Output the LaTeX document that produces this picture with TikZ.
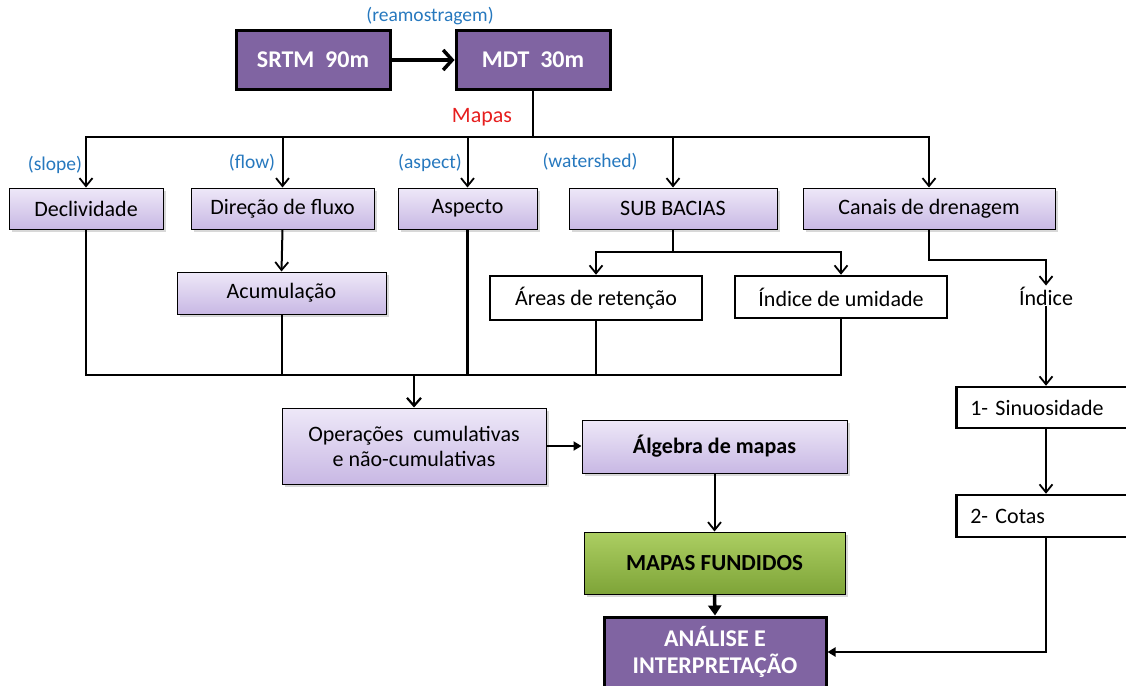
\documentclass[tikz,border=0pt]{standalone}
\usepackage{fontspec}
\setmainfont{Carlito}
\usetikzlibrary{arrows.meta,shadows}
\definecolor{purp}{RGB}{128,100,162}
\definecolor{lavtop}{RGB}{238,232,248}
\definecolor{lavbot}{RGB}{200,184,228}
\definecolor{grtop}{RGB}{172,206,98}
\definecolor{grbot}{RGB}{126,164,56}
\definecolor{lblue}{RGB}{38,120,190}
\definecolor{mred}{RGB}{230,30,30}
\newcommand\fntA{\fontsize{22}{25}\selectfont}
\newcommand\fntL{\fontsize{19.5}{22}\selectfont}
\newcommand\fntB{\fontsize{24}{27}\selectfont\bfseries}
\tikzset{
  box/.style={rectangle, inner sep=2pt, font=\fntA, align=center},
  lav/.style={box, draw=black, line width=1pt, top color=lavtop, bottom color=lavbot,
    drop shadow={shadow xshift=2.5pt, shadow yshift=-2.5pt, fill=black!30, opacity=0.5}},
  wbox/.style={box, draw=black, line width=2.5pt, fill=white},
  pbox/.style={box, draw=black, line width=3pt, fill=purp, text=white, font=\fntB},
  gbox/.style={box, draw=black, line width=1pt, top color=grtop, bottom color=grbot, font=\fntB,
    drop shadow={shadow xshift=2.5pt, shadow yshift=-2.5pt, fill=black!30, opacity=0.5}},
  lbl/.style={font=\fntL, text=lblue, inner sep=0pt},
  conn/.style={line width=2pt, draw=black},
  oarr/.style={conn, -{Straight Barb[length=8pt,width=13pt,line width=1.8pt]}},
  farr/.style={conn, -{Triangle[length=8pt,width=9pt]}},
}
\begin{document}
\begin{tikzpicture}[x=1pt,y=-1pt]
\useasboundingbox (0,0) rectangle (1126,685);
\clip (0,0) rectangle (1126,685);

% top row
\node[pbox, minimum width=154pt, minimum height=58pt] (srtm) at (313,60) {SRTM\ \ 90m};
\node[pbox, minimum width=154pt, minimum height=58pt] (mdt) at (533,60) {MDT\ \ 30m};
\node[lbl] (ream) at (430,16) {(reamostragem)};
\node[font=\fntA, text=mred, inner sep=0pt] (mapas) at (482,117) {Mapas};

% second row
\node[lav, minimum width=154pt, minimum height=41pt] (decl) at (86,208.5) {Declividade};
\node[lav, minimum width=183pt, minimum height=41pt] (dir) at (282.5,208.5) {Direção de fluxo};
\node[lav, minimum width=139pt, minimum height=41pt] (asp) at (467.5,208.5) {Aspecto};
\node[lav, minimum width=208pt, minimum height=41pt] (sub) at (673,208.5) {SUB BACIAS};
\node[lav, minimum width=252pt, minimum height=41pt] (can) at (929,208.5) {Canais de drenagem};

\node[lbl] (slope) at (55,165) {(slope)};
\node[lbl] (flow) at (252,163) {(flow)};
\node[lbl] (aspect) at (430,163) {(aspect)};
\node[lbl] (wshed) at (590,162) {(watershed)};

% third row
\node[lav, minimum width=209pt, minimum height=42pt] (acum) at (281.5,293) {Acumulação};
\node[wbox, minimum width=212pt, minimum height=44pt] (areas) at (596,298) {Áreas de retenção};
\node[wbox, minimum width=212pt, minimum height=42pt] (umid) at (841,297) {Índice de umidade};
\node[font=\fntA, inner sep=1pt] (indice) at (1046,296) {Índice};

% right column
\node[wbox, anchor=west, minimum height=41pt, text width=152pt, inner xsep=14pt, align=left] (sin) at (955,407.5) {1- Sinuosidade};
\node[wbox, anchor=west, minimum height=42pt, text width=152pt, inner xsep=14pt, align=left] (cot) at (955,516) {2- Cotas};

% lower
\node[lav, minimum width=264pt, minimum height=76pt] (ops) at (414,446) {Operações\ \ cumulativas\\e não-cumulativas};
\node[lav, minimum width=265pt, minimum height=53pt, font=\fntA\bfseries] (alg) at (714.5,446.5) {Álgebra de mapas};
\node[gbox, minimum width=261pt, minimum height=62pt, font=\fontsize{23}{26}\selectfont\bfseries] (mf) at (714.5,563) {MAPAS FUNDIDOS};
\node[pbox, minimum width=222pt, minimum height=70pt] (ana) at (715,652) {ANÁLISE E\\INTERPRETAÇÃO};

% connectors
\draw[line width=3.5pt, -{Straight Barb[length=9pt,width=20pt,line width=3.5pt]}] (srtm) -- (mdt);

\coordinate (bus) at (533,137);
\draw[conn] (mdt.south) -- (bus);
\foreach \n in {decl,dir,asp,sub,can}{
  \draw[conn] (bus) -| ([yshift=8pt]\n.north);
  \draw[oarr] ([yshift=14pt]\n.north) -- (\n.north);
}

\draw[oarr] (dir.south) -- (acum.north);

\coordinate (m) at (414,375);
\draw[conn] (decl.south) |- (m);
\draw[conn] (acum.south) |- (m);
\draw[line width=2.5pt] (asp.south) |- (m);
\draw[line width=2.5pt] (umid.south) |- (m);
\draw[conn] (areas.south) -- (areas.south |- m);
\draw[line width=2.5pt, -{Straight Barb[length=8pt,width=14pt,line width=2.2pt]}] (m) -- (ops.north);

\coordinate (sj) at (673,252);
\draw[conn] (sub.south) -- (sj);
\draw[oarr] (sj) -| (areas.north);
\draw[oarr] (sj) -| (umid.north);

\coordinate (cj) at (929,260);
\draw[oarr] (can.south) -- (cj) -| (indice.north);

\draw[oarr] (indice.south) -- (indice.south |- sin.north);
\draw[oarr] (indice.south |- sin.south) -- (indice.south |- cot.north);
\draw[farr] (indice.south |- cot.south) |- (ana.east);

\draw[farr] (ops.east) -- (ops.east -| alg.west);
\draw[oarr] (alg.south) -- (mf.north);
\draw[line width=3.5pt, -{Triangle[length=10pt,width=13pt]}] (mf.south) -- (ana.north);
\end{tikzpicture}
\end{document}
